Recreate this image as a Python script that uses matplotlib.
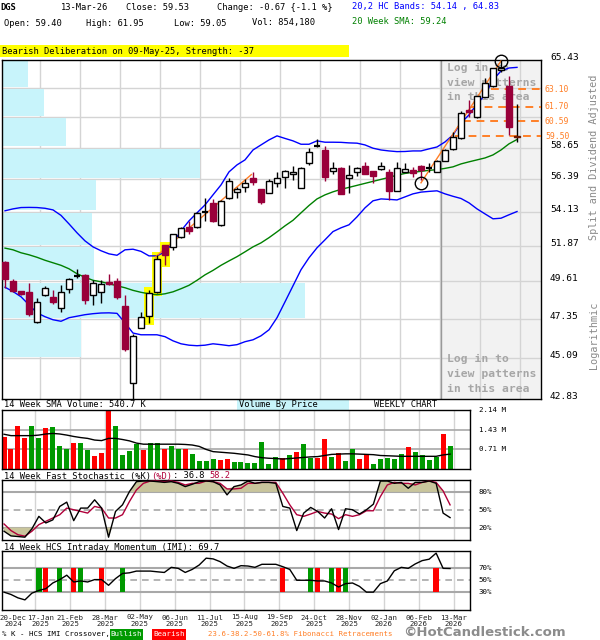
import matplotlib
matplotlib.use('Agg')
import matplotlib.pyplot as plt
import numpy as np
from matplotlib.patches import Rectangle
from matplotlib.ticker import NullLocator
import matplotlib.transforms as mtransforms

plt.rcParams['font.family'] = ['DejaVu Sans Mono', 'DejaVu Sans']

# ---------------- data (weekly, 20-Dec-2024 .. 13-Mar-2026) ----------------
opens = [50.86, 49.61, 48.99, 48.93, 47.15, 48.75, 48.65, 47.99, 49.14, 49.93,
         50.02, 48.75, 48.95, 49.59, 49.65, 48.12, 43.70, 46.80, 47.54, 48.95,
         51.93, 51.82, 52.43, 53.13, 53.09, 54.12, 54.75, 53.25, 55.05, 55.49,
         55.81, 56.44, 55.67, 55.39, 56.10, 56.56, 56.75, 55.74, 57.51, 58.73,
         58.47, 56.98, 57.20, 56.44, 56.87, 57.34, 56.96, 57.08, 56.87, 55.58,
         56.91, 57.03, 57.34, 57.19, 56.91, 57.68, 58.55, 59.33, 61.47, 60.91,
         62.45, 63.30, 64.62, 63.35, 59.40]
highs = [50.91, 49.77, 49.03, 49.54, 48.59, 49.34, 49.09, 49.40, 49.82, 50.38,
         50.09, 49.67, 49.67, 50.07, 49.82, 48.75, 46.47, 47.78, 49.09, 51.29,
         51.95, 52.65, 53.09, 53.47, 54.14, 55.05, 54.98, 54.90, 56.44, 55.85,
         56.37, 56.87, 55.69, 56.37, 56.85, 56.99, 57.32, 57.27, 58.60, 59.26,
         58.77, 57.58, 57.22, 57.39, 57.27, 57.63, 56.97, 57.63, 57.08, 57.63,
         57.51, 57.27, 57.36, 57.51, 57.75, 58.55, 59.78, 61.39, 62.24, 62.59,
         63.97, 64.81, 65.43, 64.13, 61.95]
lows = [49.22, 48.93, 48.79, 47.54, 47.12, 48.73, 48.24, 47.78, 48.89, 49.82,
        48.22, 48.14, 48.32, 49.40, 48.53, 45.49, 42.85, 46.78, 47.10, 48.89,
        50.65, 51.61, 52.41, 52.65, 53.03, 53.51, 53.45, 53.18, 54.98, 55.09,
        55.51, 56.00, 54.64, 55.38, 55.81, 55.74, 56.32, 55.73, 57.39, 58.71,
        56.27, 56.75, 55.33, 55.44, 56.60, 56.71, 56.09, 57.06, 54.93, 55.56,
        56.85, 56.56, 56.32, 56.91, 56.85, 57.66, 58.47, 59.28, 60.96, 60.83,
        62.44, 63.29, 64.49, 59.60, 59.05]
closes = [49.77, 49.03, 48.85, 47.63, 48.35, 49.20, 48.37, 48.95, 49.75, 49.96,
          48.49, 49.51, 49.46, 49.48, 48.63, 45.61, 46.34, 47.45, 48.89, 51.03,
          51.29, 52.63, 53.03, 52.87, 54.03, 54.15, 53.47, 54.89, 56.25, 55.69,
          56.14, 56.17, 54.82, 56.25, 56.44, 56.98, 56.91, 57.20, 58.35, 58.77,
          56.56, 57.20, 55.35, 56.68, 57.15, 56.73, 56.61, 57.32, 55.58, 57.15,
          57.08, 56.80, 57.03, 57.21, 57.70, 58.47, 59.45, 61.21, 61.34, 62.58,
          63.60, 64.76, 64.80, 60.20, 59.53]

upper_band = [54.19, 54.32, 54.41, 54.42, 54.41, 54.36, 54.25, 53.88, 53.31, 52.72,
              52.19, 51.80, 51.55, 51.35, 51.26, 51.61, 51.65, 51.51, 51.22, 51.22,
              51.48, 52.06, 52.85, 53.51, 54.05, 54.59, 55.28, 55.97, 56.89, 57.39,
              57.75, 58.47, 58.84, 59.21, 59.51, 59.32, 59.14, 58.89, 58.89, 59.14,
              59.04, 59.04, 59.03, 58.99, 58.97, 58.84, 58.60, 58.47, 58.40, 58.35,
              58.36, 58.40, 58.40, 58.55, 58.69, 59.06, 59.58, 60.48, 61.09, 61.93,
              62.63, 63.82, 64.54, 64.78, 64.83]
lower_band = [49.25, 48.99, 48.67, 48.18, 47.70, 47.47, 47.29, 47.20, 47.41, 47.50,
              47.59, 47.65, 47.69, 47.70, 47.67, 47.11, 46.51, 46.41, 46.41, 46.41,
              46.30, 46.06, 45.89, 45.81, 45.78, 45.81, 45.89, 45.84, 45.78, 45.84,
              46.01, 46.12, 46.35, 46.70, 47.41, 48.36, 49.34, 50.34, 51.10, 51.74,
              52.26, 52.80, 53.05, 53.25, 53.78, 54.39, 54.87, 55.00, 54.97, 54.93,
              55.14, 55.35, 55.47, 55.52, 55.56, 55.35, 55.18, 55.03, 54.73, 54.32,
              53.98, 53.65, 53.69, 53.92, 54.14]
sma20 = [51.72, 51.61, 51.42, 51.29, 51.13, 50.94, 50.78, 50.62, 50.40, 50.09,
         49.87, 49.68, 49.59, 49.47, 49.34, 49.22, 49.06, 48.94, 48.85, 48.79,
         48.85, 48.97, 49.16, 49.37, 49.68, 50.02, 50.30, 50.62, 50.90, 51.17,
         51.48, 51.80, 52.06, 52.40, 52.78, 53.18, 53.55, 54.05, 54.55, 55.00,
         55.28, 55.49, 55.66, 55.80, 55.94, 56.08, 56.22, 56.36, 56.50, 56.66,
         56.78, 56.86, 56.93, 57.00, 57.05, 57.14, 57.25, 57.46, 57.61, 57.75,
         57.89, 58.11, 58.47, 58.92, 59.24]

volume_m = [1.17, 0.73, 1.57, 1.14, 1.57, 1.14, 1.50, 1.53, 0.83, 0.73,
            0.95, 0.95, 0.69, 0.47, 0.59, 2.14, 1.57, 0.51, 0.65, 0.91,
            0.69, 0.95, 0.93, 0.73, 0.83, 0.73, 0.73, 0.54, 0.29, 0.29,
            0.36, 0.31, 0.36, 0.25, 0.26, 0.23, 0.22, 0.98, 0.18, 0.44,
            0.39, 0.51, 0.62, 0.91, 0.41, 0.41, 1.10, 0.45, 0.58, 0.29,
            0.73, 0.36, 0.51, 0.18, 0.36, 0.40, 0.36, 0.54, 0.80, 0.62,
            0.51, 0.33, 0.44, 1.27, 0.85]
vol_sma14_m = [1.26, 1.21, 1.21, 1.21, 1.21, 1.23, 1.27, 1.29, 1.27, 1.23,
               1.18, 1.14, 1.11, 1.05, 1.03, 1.11, 1.11, 1.07, 1.02, 0.94,
               0.90, 0.90, 0.90, 0.90, 0.90, 0.90, 0.89, 0.87, 0.82, 0.71,
               0.63, 0.61, 0.59, 0.57, 0.54, 0.51, 0.45, 0.41, 0.39, 0.38,
               0.36, 0.38, 0.40, 0.42, 0.44, 0.45, 0.49, 0.53, 0.54, 0.55,
               0.55, 0.54, 0.53, 0.52, 0.49, 0.48, 0.47, 0.46, 0.46, 0.46,
               0.46, 0.46, 0.46, 0.51, 0.54]

stoch_k = [13.9, 6.0, 5.0, 3.9, 18.0, 38.9, 27.8, 33.0, 55.6, 62.8,
           31.7, 52.8, 52.8, 66.7, 52.8, 3.9, 47.2, 58.3, 80.6, 97.2,
           98.3, 98.3, 97.2, 96.0, 97.2, 94.4, 88.9, 92.8, 97.2, 98.3,
           97.2, 91.7, 75.0, 88.9, 91.7, 98.3, 94.4, 96.0, 96.0, 94.4,
           55.6, 52.8, 15.0, 44.4, 53.9, 47.2, 36.1, 51.7, 16.7, 51.7,
           50.0, 42.8, 50.0, 59.4, 98.3, 98.3, 94.4, 96.0, 86.1, 96.0,
           96.0, 98.3, 94.4, 44.4, 36.8]
stoch_d = [26.1, 15.0, 8.0, 5.6, 13.9, 25.0, 30.6, 36.1, 41.7, 52.8,
           50.0, 47.2, 44.4, 55.6, 52.8, 36.1, 36.1, 41.7, 63.9, 83.3,
           94.4, 98.3, 98.3, 97.2, 98.3, 96.0, 91.7, 94.4, 94.4, 98.3,
           97.2, 94.4, 85.0, 85.0, 86.1, 94.4, 94.4, 96.0, 96.0, 96.0,
           77.8, 58.3, 41.7, 38.9, 42.8, 47.2, 44.4, 42.8, 35.0, 41.7,
           38.9, 41.7, 48.3, 48.3, 72.2, 91.7, 96.0, 94.4, 94.4, 91.7,
           96.0, 98.3, 96.0, 81.7, 58.2]
imi = [30.0, 26.1, 20.4, 17.0, 28.3, 32.9, 35.8, 45.4, 51.1, 58.5,
       47.1, 48.8, 47.1, 51.1, 51.1, 41.5, 52.8, 61.4, 62.5, 65.4,
       65.4, 65.4, 64.2, 63.1, 71.7, 70.0, 63.1, 68.2, 75.6, 87.1,
       85.9, 81.3, 73.9, 70.0, 74.5, 73.9, 71.7, 76.8, 76.8, 76.8,
       72.8, 68.2, 50.0, 50.0, 50.0, 48.8, 48.8, 45.4, 38.6, 44.3,
       45.4, 39.7, 30.0, 30.0, 44.3, 48.8, 65.9, 71.7, 70.0, 77.4,
       83.0, 85.4, 95.6, 70.0, 69.7]
cross_bullish = [5, 8, 11, 17, 44, 47, 49]
cross_bearish = [6, 10, 14, 40, 45, 48, 62]

highlight_weeks = [18, 19, 20]
circle_points = [(52, 56.12), (62, 65.35)]
trend_lines = [((18.8, 51.15), (30.8, 56.70)), ((52, 56.12), (62, 65.35))]

fib_levels = [63.10, 61.70, 60.59, 59.50]
fib_start_week = [60.8, 58.2, 57.3, 56.3]

price_grid = [42.83, 45.09, 47.35, 49.61, 51.87, 54.13, 56.39, 58.65, 60.91, 63.17, 65.43]
price_labels = ['42.83', '45.09', '47.35', '49.61', '51.87', '54.13', '56.39', '58.65', '', '', '65.43']
vbp_volume_m = [0.0, 3.6, 13.8, 4.2, 4.1, 4.3, 9.0, 2.9, 1.9, 1.2]

vol_grid = [0.71, 1.43, 2.14]
vol_labels = ['0.71 M', '1.43 M', '2.14 M']

date_labels = ['20-Dec\n2024', '17-Jan\n2025', '21-Feb\n2025', '28-Mar\n2025', '02-May\n2025',
               '06-Jun\n2025', '11-Jul\n2025', '15-Aug\n2025', '19-Sep\n2025', '24-Oct\n2025',
               '28-Nov\n2025', '02-Jan\n2026', '06-Feb\n2026', '13-Mar\n2026']

# ---------------- figure ----------------
W, H = 600, 640
fig = plt.figure(figsize=(W / 100, H / 100), dpi=100)
fig.patch.set_facecolor('white')

RED = '#99003a'
ORANGE = '#ff7f27'
GRID = '#d4d4d4'
MID = '#a8a8a8'
FS = 6.3


def pax(l, t, r, b):
    return fig.add_axes([l / W, 1 - b / H, (r - l) / W, (b - t) / H])


def ftext(x, y, s, **kw):
    kw.setdefault('va', 'center')
    kw.setdefault('ha', 'left')
    kw.setdefault('fontsize', FS)
    return fig.text(x / W, 1 - y / H, s, **kw)


def frect(l, t, r, b, color):
    fig.add_artist(Rectangle((l / W, 1 - b / H), (r - l) / W, (b - t) / H,
                             transform=fig.transFigure, color=color, lw=0, zorder=0))


def clean(ax):
    ax.set_xticks([])
    ax.set_yticks([])
    ax.xaxis.set_minor_locator(NullLocator())
    ax.yaxis.set_minor_locator(NullLocator())
    for s in ax.spines.values():
        s.set_color('black')
        s.set_linewidth(1)


n = len(closes)
x = np.arange(n)

# ---------------- header ----------------
ftext(0, 8, 'DGS', fontweight='bold')
ftext(61, 8, '13-Mar-26')
ftext(126, 8, 'Close: 59.53')
ftext(217, 8, 'Change: -0.67 {-1.1 %}')
ftext(4, 23, 'Open: 59.40')
ftext(86, 23, 'High: 61.95')
ftext(174, 23, 'Low: 59.05')
ftext(252, 23, 'Vol: 854,180')
ftext(352, 7, '20,2 HC Bands: 54.14 , 64.83', color='#0000ff')
ftext(352, 22, '20 Week SMA: 59.24', color='#008000')
frect(0, 45, 349, 57, '#ffff00')
ftext(2, 51, 'Bearish Deliberation on 09-May-25, Strength: -37')

# ---------------- main price panel ----------------
axm = pax(2, 60, 541, 399)
axm.set_yscale('log')
axm.set_xlim(-0.375, 67)
axm.set_ylim(price_grid[0], price_grid[-1])
clean(axm)

axm.axvspan(54.45, 67, color='#f2f2f2', zorder=0.2, lw=0)
for p in price_grid[1:-1]:
    axm.axhline(p, color=GRID, lw=1, zorder=0.5)
for g in np.arange(4, 65, 5) + 0.4:
    axm.axvline(g, color=GRID, lw=1, zorder=0.5)
axm.axvline(54.45, color='#9a9a9a', lw=1, zorder=0.6)

# volume by price
blend_m = mtransforms.blended_transform_factory(axm.transAxes, axm.transData)
vmax = max(vbp_volume_m)
for k, v in enumerate(vbp_volume_m):
    if v <= 0:
        continue
    lo, hi = price_grid[k] * 1.0015, price_grid[k + 1] / 1.0015
    axm.add_patch(Rectangle((0, lo), v / vmax * 0.562, hi - lo, transform=blend_m,
                            color='#c8f4fb', lw=0, zorder=0.8))

# login text
for (yy, txt) in [(67.7, 'Log in to'), (82.5, 'view patterns'), (97.3, 'in this area'),
                  (359.3, 'Log in to'), (374.3, 'view patterns'), (389, 'in this area')]:
    axm.text(447 / W, 1 - yy / H, txt, transform=fig.transFigure, fontsize=8.2,
             fontweight='bold', color='#a6a6a6', va='center', ha='left', zorder=1)

# highlights
for w in highlight_weeks:
    axm.add_patch(Rectangle((w - 0.68, lows[w] / 1.003), 1.36, highs[w] * 1.003 - lows[w] / 1.003,
                            color='#ffff00', lw=0, zorder=1.5))

axm.plot(x, upper_band, color='#0000ff', lw=1, zorder=2)
axm.plot(x, lower_band, color='#0000ff', lw=1, zorder=2)
axm.plot(x, sma20, color='#008000', lw=1, zorder=2)

for (a, b) in trend_lines:
    axm.plot([a[0], b[0]], [a[1], b[1]], color=ORANGE, lw=1, zorder=2.6)

for lvl, st in zip(fib_levels, fib_start_week):
    axm.hlines(lvl, st, 67, colors=ORANGE, linestyles=(0, (4, 3)), lw=1.4, zorder=2.7)
    axm.text(1.0074, lvl, f'{lvl:.2f}', transform=blend_m, color=ORANGE, fontsize=5.9,
             va='center', ha='left')

# candles
for i in range(n):
    o, h, l, c = opens[i], highs[i], lows[i], closes[i]
    bull = c >= o
    col = 'black' if bull else RED
    axm.vlines(i, l, h, color=col, lw=1, zorder=3)
    if abs(c - o) / o < 0.0012:
        axm.hlines((o + c) / 2, i - 0.42, i + 0.42, color='black', lw=1.6, zorder=4)
        continue
    if i == n - 1:
        fc, ec = '#ff9933', '#6b1a00'
    else:
        fc, ec = ('white', 'black') if bull else (RED, RED)
    axm.add_patch(Rectangle((i - 0.35, min(o, c)), 0.7, abs(c - o), facecolor=fc,
                            edgecolor=ec, lw=1, zorder=4))

for (cx, cy) in circle_points:
    axm.plot(cx, cy, 'o', mfc='none', mec='black', ms=9, mew=1, zorder=5, clip_on=False)

lab_tr = mtransforms.offset_copy(blend_m, fig=fig, x=0, y=2.5, units='dots')
for p, s in zip(price_grid, price_labels):
    if s:
        axm.text(1.0167, p, s, transform=lab_tr, fontsize=6.8, va='center', ha='left')

ftext(594, 157, 'Split and Dividend Adjusted', rotation=90, ha='center', color='#8a8a8a', fontsize=7.3)
ftext(594, 335, 'Logarithmic', rotation=90, ha='center', color='#8a8a8a', fontsize=7.3)

# ---------------- lower panels ----------------
XL = (-0.29, 66.86)
lower_grid = np.arange(4, 65, 5) + 0.5


def lower_px(i):
    return 2 + (i - XL[0]) / (XL[1] - XL[0]) * 468


# volume
ftext(4, 404.5, '14 Week SMA Volume: 540.7 K')
frect(237, 399.5, 349, 410, '#c8f4fb')
ftext(239, 404.5, 'Volume By Price')
ftext(374, 404.5, 'WEEKLY CHART')

axv = pax(2, 410, 470, 469)
axv.set_xlim(*XL)
axv.set_ylim(0, vol_grid[-1])
clean(axv)
for g in lower_grid:
    axv.axvline(g, color=GRID, lw=1, zorder=0.5)
for v in vol_grid[:-1]:
    axv.axhline(v, color=MID, lw=1.2, zorder=0.6)
vcols = ['#009900' if closes[i] >= opens[i] else '#ff0000' for i in range(n)]
axv.bar(x, volume_m, width=0.72, color=vcols, zorder=2)
axv.plot(x, vol_sma14_m, color='black', lw=1, zorder=3)
blend_v = mtransforms.blended_transform_factory(axv.transAxes, axv.transData)
for v, s in zip(vol_grid, vol_labels):
    axv.text(1.019, v, s, transform=blend_v, fontsize=5.4, va='center', ha='left')

# stochastic
cw = 0.602 * FS * 100 / 72
t1 = '14 Week Fast Stochastic (%K)'
ftext(4, 476, t1)
ftext(4 + len(t1) * cw, 476, '(%D)', color='#b0003a')
ftext(4 + (len(t1) + 4) * cw, 476, ': 36.8 ')
ftext(4 + (len(t1) + 11) * cw, 476, '58.2', color='#b0003a')

axs = pax(2, 480, 470, 539.5)
axs.set_xlim(*XL)
axs.set_ylim(0, 100)
clean(axs)
for g in lower_grid:
    axs.axvline(g, color=GRID, lw=1, zorder=0.5)
axs.axhline(80, color=MID, lw=1.5, zorder=0.7)
axs.axhline(20, color=MID, lw=1.5, zorder=0.7)
axs.axhline(50, color=MID, lw=1.2, ls=(0, (4, 3)), zorder=0.7)
kk = np.array(stoch_k)
dd = np.array(stoch_d)
top = np.maximum(kk, dd)
bot = np.minimum(kk, dd)
axs.fill_between(x, 80, top, where=top >= 80, interpolate=True, color='#c9c59c', lw=0, zorder=1)
axs.fill_between(x, bot, 20, where=bot <= 20, interpolate=True, color='#c9c59c', lw=0, zorder=1)
axs.plot(x, stoch_d, color='#b0003a', lw=1, zorder=3)
axs.plot(x, stoch_k, color='black', lw=1, zorder=3)
for v in (80, 50, 20):
    axs.text(1.019, v, f'{v}%', transform=mtransforms.blended_transform_factory(axs.transAxes, axs.transData),
             fontsize=5.4, va='center', ha='left')

# IMI
ftext(4, 547, '14 Week HCS Intraday Momentum (IMI): 69.7')
axi = pax(2, 550.5, 470, 610)
axi.set_xlim(*XL)
axi.set_ylim(0, 100)
clean(axi)
for g in lower_grid:
    axi.axvline(g, color=GRID, lw=1, zorder=0.5)
axi.axhline(70, color=MID, lw=1.5, zorder=0.7)
axi.axhline(30, color=MID, lw=1.5, zorder=0.7)
axi.axhline(50, color=MID, lw=1.2, ls=(0, (4, 3)), zorder=0.7)
for w in cross_bullish:
    axi.add_patch(Rectangle((w - 0.38, 30), 0.76, 40, color='#009900', lw=0, zorder=2))
for w in cross_bearish:
    axi.add_patch(Rectangle((w - 0.38, 30), 0.76, 40, color='#ff0000', lw=0, zorder=2))
axi.plot(x, imi, color='black', lw=1, zorder=3)
for v in (70, 50, 30):
    axi.text(1.019, v, f'{v}%', transform=mtransforms.blended_transform_factory(axi.transAxes, axi.transData),
             fontsize=5.4, va='center', ha='left')

# date labels
for k, s in enumerate(date_labels):
    if k == 0:
        px = 13
    elif k == 1:
        px = lower_px(lower_grid[0]) + 5
    else:
        px = lower_px(lower_grid[k - 1])
    ftext(px, 620.5, s, ha='center', fontsize=5.3, color='#222222', linespacing=1.0)

# legend row
ftext(2, 634, '% K - HCS IMI Crossover,', fontsize=5.3)
frect(110, 628.5, 143, 639.5, '#009900')
ftext(126.5, 634, 'Bullish', ha='center', color='white', fontsize=5.3)
frect(152, 628.5, 186, 639.5, '#ff0000')
ftext(169, 634, 'Bearish', ha='center', color='white', fontsize=5.3)
ftext(208, 634, '23.6-38.2-50-61.8% Fibonacci Retracements', color=ORANGE, fontsize=5.3)
ftext(403, 633, '\u00a9HotCandlestick.com', family='DejaVu Sans', fontweight='bold',
      color='#8c8c8c', fontsize=9.5)

fig.savefig('out.png', dpi=100)
